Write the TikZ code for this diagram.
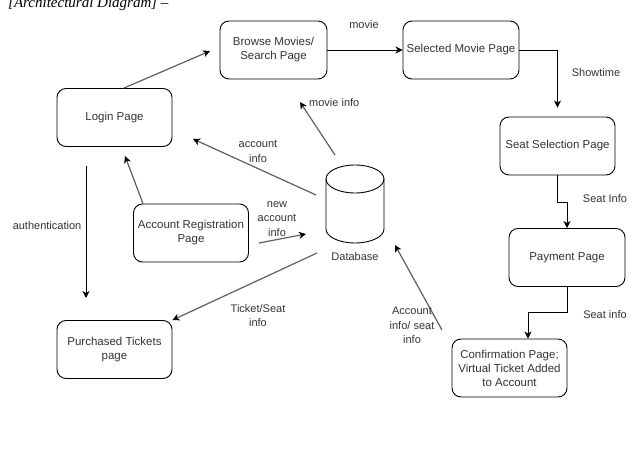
\documentclass[tikz,border=0pt]{standalone}
\usepackage{fontspec}
\setmainfont{Liberation Sans}
\newfontfamily\titlefont{Liberation Serif}
\usetikzlibrary{arrows.meta}

\definecolor{txtgray}{HTML}{333333}
\definecolor{linegray}{HTML}{5F5F5F}

\tikzset{
  box/.style={draw, rounded corners=9pt, minimum width=115pt, minimum height=58pt,
    inner sep=2pt, align=center, text=txtgray, line width=0.9pt,
    font=\fontsize{11.5}{14}\selectfont},
  lbl/.style={align=center, text=txtgray, inner sep=0pt,
    font=\fontsize{11}{14.5}\selectfont},
  flow/.style={-{Stealth[length=7pt,width=7pt,inset=2pt,color=black]}, line width=0.9pt},
  link/.style={flow, draw=linegray, line width=1.2pt},
}

\begin{document}
\begin{tikzpicture}[x=1pt,y=-1pt]
\useasboundingbox (0,0) rectangle (638,454);

% heading, cut off at the top edge
\begin{scope}
  \clip (0,0) rectangle (638,454);
  \node[anchor=base west, inner sep=0pt, font=\titlefont\itshape\fontsize{15}{16}\selectfont] (title) at (8,8) {[Architectural Diagram] –};
\end{scope}

% pages
\node[box, minimum width=107pt] (browse) at (273.5,50) {Browse Movies/\\Search Page};
\node[box, minimum width=116pt] (movie) at (461,50) {Selected Movie Page};
\node[box] (login) at (114.5,117.5) {Login Page};
\node[box] (seat) at (557.5,146) {Seat Selection Page};
\node[box] (register) at (191,233) {Account Registration\\Page};
\node[box, minimum width=116pt] (pay) at (567,257.5) {Payment Page};
\node[box] (tickets) at (114.5,349.5) {Purchased Tickets\\page};
\node[box] (confirm) at (509.5,368) {Confirmation Page;\\Virtual Ticket Added\\to Account};

% database
\node[minimum width=58pt, minimum height=78pt, inner sep=0pt] (db) at (355,204) {};
\draw[line width=0.9pt] (326,179) -- (326,229) arc[start angle=180, end angle=0, x radius=29, y radius=14] -- (384,179);
\draw[line width=0.9pt] (355,179) ellipse [x radius=29, y radius=14];
\node[lbl] (dbname) at (355,257) {Database};

% free ends
\coordinate (browseEnd) at (210,51);
\coordinate (dbTop) at (335,155);
\coordinate (infoEnd) at (300,102);
\coordinate (dbLeft) at (316,195);
\coordinate (loginEnd) at (193,139);
\coordinate (loginLow) at (125,156);
\coordinate (regOut) at (259,243);
\coordinate (dbIn) at (306,234);
\coordinate (dbLow) at (317,253);
\coordinate (confOut) at (442,330);
\coordinate (dbEnd) at (395,245);
\coordinate (authTop) at (86,166);
\coordinate (authBot) at (86,298);

% page flow
\draw[link] ([xshift=9.5pt]login.north) -- (browseEnd);
\draw[flow] (browse.east) -- (movie.west);
\node[lbl] (movieLbl) at (364,25) {movie};
\draw[flow, shorten >=9pt] (movie.east) -| (seat.north);
\node[lbl] (showLbl) at (596,73) {Showtime};
\draw[flow] (seat.south) -- ++(0,27) -| (pay.north);
\node[lbl] (seatLbl) at (605,199) {Seat Info};
\draw[flow] (pay.south) -- ++(0,25.5) -| ([xshift=18.5pt]confirm.north);
\node[lbl] (seatLbl2) at (605,315) {Seat info};
\draw[flow] (authTop) -- (authBot);
\node[lbl] (authLbl) at (47,226) {authentication};
\draw[link] ([xshift=-48pt]register.north) -- (loginLow);

% database traffic
\draw[link] (dbTop) -- (infoEnd);
\node[lbl, anchor=west] (infoLbl) at (309,103) {movie info};
\draw[link] (dbLeft) -- (loginEnd);
\node[lbl] (accLbl) at (258,151.5) {account\\info};
\draw[link] (regOut) -- (dbIn);
\node[lbl] (newLbl) at (277,219) {new\\account\\info};
\draw[link] (dbLow) -- (tickets.north east);
\node[lbl] (ticketLbl) at (258,315.5) {Ticket/Seat\\info};
\draw[link] (confOut) -- (dbEnd);
\node[lbl] (confLbl) at (412,325.5) {Account\\info/ seat\\info};

\end{tikzpicture}
\end{document}
